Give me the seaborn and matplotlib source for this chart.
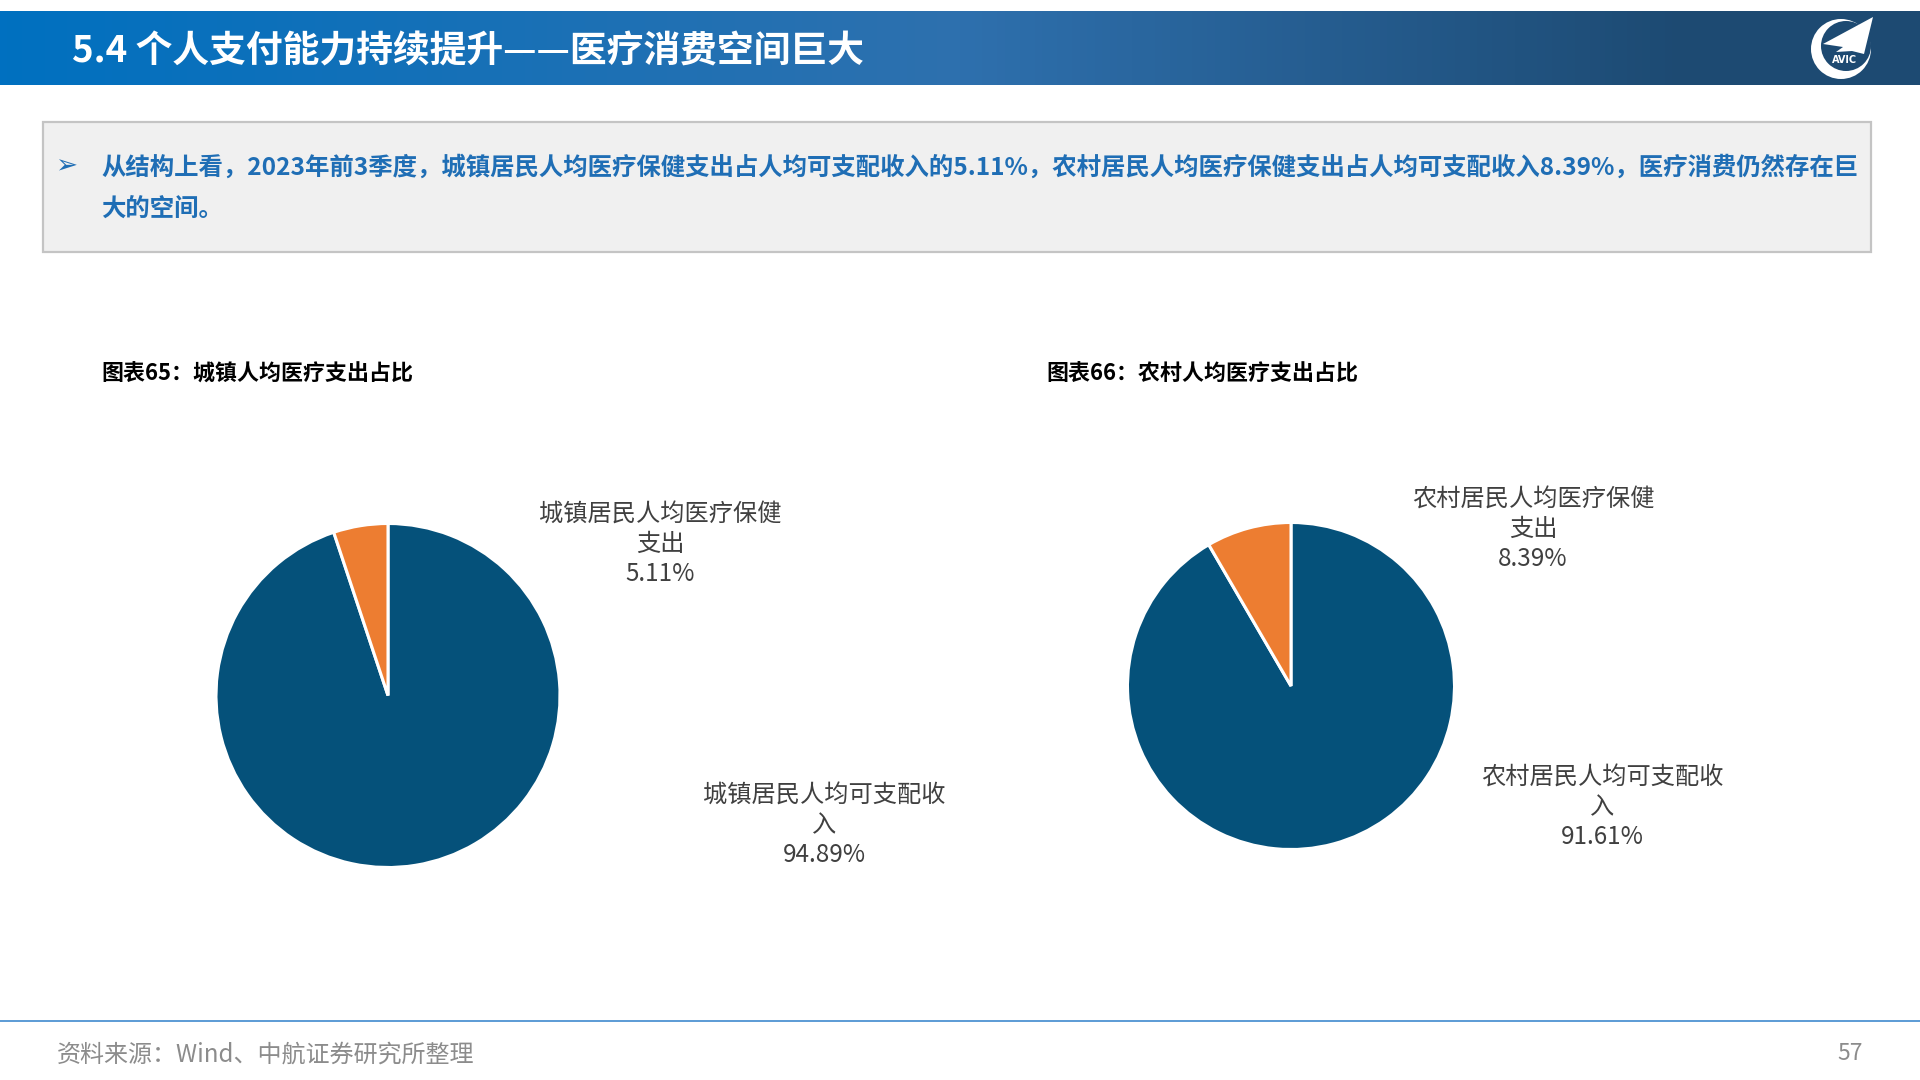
import matplotlib
matplotlib.use('Agg')
import matplotlib.pyplot as plt
import seaborn as sns
import numpy as np
from matplotlib.colors import LinearSegmentedColormap
from matplotlib.patches import Rectangle, Circle, Polygon

# Data
urban_labels = ['城镇居民人均可支配收入', '城镇居民人均医疗保健支出']
urban_values = [94.89, 5.11]
rural_labels = ['农村居民人均可支配收入', '农村居民人均医疗保健支出']
rural_values = [91.61, 8.39]

slide_title = '5.4 个人支付能力持续提升——医疗消费空间巨大'
note_line1 = ('从结构上看\uff0c2023年前3季度\uff0c城镇居民人均医疗保健支出占人均可支配收入的5.11%\uff0c'
              '农村居民人均医疗保健支出占人均可支配收入8.39%\uff0c医疗消费仍然存在巨')
note_line2 = '大的空间。'
chart_titles = ['图表65\uff1a城镇人均医疗支出占比', '图表66\uff1a农村人均医疗支出占比']
source_text = '资料来源\uff1aWind、中航证券研究所整理'
page_number = '57'

W, H = 1920, 1080
sns.set_theme(style='white')
plt.rcParams['font.family'] = ['Noto Sans CJK SC', 'DejaVu Sans']
pie_colors = sns.color_palette(['#05517A', '#ED7D31'])

fig = plt.figure(figsize=(W / 100, H / 100), dpi=100, facecolor='white')

# Background layer in pixel coordinates
bg = fig.add_axes([0, 0, 1, 1])
bg.set_xlim(0, W)
bg.set_ylim(H, 0)
bg.axis('off')

# Header band
header_cmap = LinearSegmentedColormap.from_list(
    'header', [(0, '#0070C0'), (0.5, '#2E70AE'), (0.88, '#1D4A72'), (1, '#1D4A72')])
gradient = np.linspace(0, 1, 512).reshape(1, -1)
bg.imshow(gradient, cmap=header_cmap, extent=[0, W, 85, 11], aspect='auto', zorder=1)
bg.set_xlim(0, W)
bg.set_ylim(H, 0)
bg.text(72, 52, slide_title, color='white', fontsize=26.5, fontweight='bold',
        va='center', ha='left', zorder=3)

# AVIC logo
bg.add_patch(Circle((1841, 49), 30, fc='white', ec='none', zorder=3))
bg.add_patch(Circle((1846, 46), 25, fc='#1D4A72', ec='none', zorder=4))
bg.add_patch(Polygon([(1873, 17), (1823, 44), (1843, 47), (1836, 52), (1852, 51), (1864, 54)],
                     fc='white', ec='none', zorder=5))
bg.text(1845, 60, 'AVIC', color='white', fontsize=7, fontweight='bold', ha='center', va='center',
        family='DejaVu Sans', zorder=5)

# Summary box
bg.add_patch(Rectangle((43, 122), 1828, 130, fc='#F0F0F0', ec='#C4C4C4', lw=1.6, zorder=1))
bg.text(66, 166, '➢', color='#1F6EB5', fontsize=19, family='DejaVu Sans', ha='center', va='center', zorder=3)
bg.text(101, 167, note_line1, color='#1F6EB5', fontsize=17.58, fontweight='bold', ha='left', va='center', zorder=3)
bg.text(101, 210, note_line2, color='#1F6EB5', fontsize=17.58, fontweight='bold', ha='left', va='center', zorder=3)

# Chart titles
bg.text(101, 374, chart_titles[0], color='black', fontsize=15.8, fontweight='bold', ha='left', va='center')
bg.text(1046, 374, chart_titles[1], color='black', fontsize=15.8, fontweight='bold', ha='left', va='center')

# Footer
bg.plot([0, W], [1021, 1021], color='#5B9BD5', lw=1.4)
bg.text(57, 1055, source_text, color='#8C8C8C', fontsize=17.3, ha='left', va='center')
bg.text(1850, 1054, page_number, color='#8C8C8C', fontsize=16.5, ha='center', va='center')


def draw_pie(values, cx, cy, r):
    # axes sized in pixels so the radius lands where the slide has it
    ax = fig.add_axes([(cx - r) / W, 1 - (cy + r) / H, 2 * r / W, 2 * r / H])
    ax.pie(values, colors=pie_colors, startangle=90, counterclock=False, radius=1,
           wedgeprops={'edgecolor': 'white', 'linewidth': 2.2})
    ax.set_xlim(-1, 1)
    ax.set_ylim(-1, 1)
    ax.set_aspect('equal')
    ax.patch.set_alpha(0)


def draw_label(lines, x, y):
    bg.text(x, y, '\n'.join(lines), color='#404040', fontsize=17.45, ha='center', va='center',
            linespacing=1.19)


draw_pie(urban_values, 388, 695.5, 172)
draw_pie(rural_values, 1291, 686, 163.5)

draw_label([urban_labels[1][:10], urban_labels[1][10:], f'{urban_values[1]:.2f}%'], 660, 544)
draw_label([urban_labels[0][:10], urban_labels[0][10:], f'{urban_values[0]:.2f}%'], 824, 825)
draw_label([rural_labels[1][:10], rural_labels[1][10:], f'{rural_values[1]:.2f}%'], 1533, 529)
draw_label([rural_labels[0][:10], rural_labels[0][10:], f'{rural_values[0]:.2f}%'], 1602, 807)

fig.savefig('out.png', dpi=100, facecolor='white')
plt.close(fig)
